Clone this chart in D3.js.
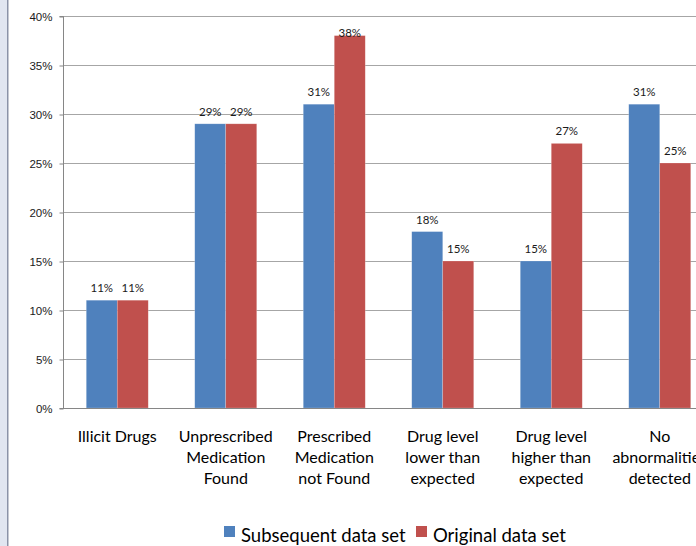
<!DOCTYPE html>
<html>
<head>
<meta charset="utf-8">
<script src="https://cdn.jsdelivr.net/npm/d3@7"></script>
<style>
  html, body { margin: 0; padding: 0; background: #fff; overflow: hidden; }
  svg { display: block; font-family: Lato, "Open Sans", sans-serif; }
</style>
</head>
<body>
<svg id="chart" width="696" height="546"></svg>
<script>
const categories = [
  ["Illicit Drugs"],
  ["Unprescribed", "Medication", "Found"],
  ["Prescribed", "Medication", "not Found"],
  ["Drug level", "lower than", "expected"],
  ["Drug level", "higher than", "expected"],
  ["No", "abnormalities", "detected"]
];
const subsequentValues = [11, 29, 31, 18, 15, 31];
const originalValues = [11, 29, 38, 15, 27, 25];
const seriesNames = ["Subsequent data set", "Original data set"];
const seriesColors = ["#4f81bd", "#c0504d"];
const yTicks = [0, 5, 10, 15, 20, 25, 30, 35, 40];

(function () {
  const svg = d3.select("#chart");

  // left frame strip
  svg.append("rect").attr("x", 0).attr("y", 0).attr("width", 7).attr("height", 546).attr("fill", "#e1e6f1");
  svg.append("rect").attr("x", 7).attr("y", 0).attr("width", 1.5).attr("height", 546).attr("fill", "#8b93a8");

  const plotLeft = 63, plotTop = 16, plotBottom = 408;
  const x0 = d3.scaleBand().domain(d3.range(categories.length))
    .range([plotLeft, plotLeft + 108.5 * categories.length]);
  const x1 = d3.scaleBand().domain([0, 1]).range([0, 62]);
  const y = d3.scaleLinear().domain([0, 40]).range([plotBottom, plotTop]);

  // gridlines
  svg.append("g").selectAll("line").data(yTicks.filter(t => t > 0)).join("line")
    .attr("x1", plotLeft).attr("x2", 720)
    .attr("y1", d => Math.round(y(d)) + 0.5).attr("y2", d => Math.round(y(d)) + 0.5)
    .attr("stroke", "#a6a6a6").attr("stroke-width", 1);

  // y axis
  const yAxis = d3.axisLeft(y).tickValues(yTicks).tickFormat(d => d + "%").tickSize(4).tickPadding(7);
  const gy = svg.append("g").attr("transform", `translate(${plotLeft + 0.5},0.5)`).call(yAxis);
  gy.select(".domain").attr("stroke", "#868686").attr("d", `M-4,${plotTop}H0V${plotBottom}H-4`);
  gy.selectAll(".tick line").attr("stroke", "#868686");
  gy.selectAll(".tick text").attr("font-size", 11.5).attr("fill", "#1a1a1a");

  // bars
  const vals = [subsequentValues, originalValues];
  const groups = svg.append("g").selectAll("g").data(categories.map((c, i) => i)).join("g")
    .attr("transform", i => `translate(${x0(i) + (x0.bandwidth() - 62) / 2},0)`);

  groups.selectAll("rect").data(i => vals.map((v, s) => ({ s, v: v[i] }))).join("rect")
    .attr("x", d => x1(d.s))
    .attr("y", d => y(d.v))
    .attr("width", x1.bandwidth())
    .attr("height", d => plotBottom - y(d.v))
    .attr("fill", d => seriesColors[d.s])
    .attr("stroke", "rgba(255,255,255,0.35)")
    .attr("stroke-width", 0.6);

  groups.selectAll("text").data(i => vals.map((v, s) => ({ s, v: v[i] }))).join("text")
    .attr("x", d => x1(d.s) + x1.bandwidth() / 2)
    .attr("y", d => Math.max(y(d.v) - 8, plotTop + 21))
    .attr("text-anchor", "middle")
    .attr("font-size", 11.5)
    .attr("fill", "#1a1a1a")
    .text(d => d.v + "%");

  // x axis line
  svg.append("line").attr("x1", plotLeft).attr("x2", 720)
    .attr("y1", plotBottom + 0.5).attr("y2", plotBottom + 0.5).attr("stroke", "#868686");

  // category labels
  svg.append("g").selectAll("text").data(categories).join("text")
    .attr("x", (d, i) => x0(i) + x0.bandwidth() / 2)
    .attr("y", 442)
    .attr("text-anchor", "middle")
    .attr("font-size", 16)
    .attr("fill", "#000")
    .selectAll("tspan").data(d => d).join("tspan")
    .attr("x", function () { return this.parentNode.getAttribute("x"); })
    .attr("dy", (d, j) => j === 0 ? 0 : 21)
    .text(d => d);

  // legend
  const legend = svg.append("g");
  const legendX = [224, 416];
  seriesNames.forEach((name, i) => {
    legend.append("rect").attr("x", legendX[i]).attr("y", 526).attr("width", 11).attr("height", 11)
      .attr("fill", seriesColors[i]);
    legend.append("text").attr("x", legendX[i] + 17).attr("y", 542).attr("font-size", 18.5)
      .attr("fill", "#000").text(name);
  });
})();
</script>
</body>
</html>
